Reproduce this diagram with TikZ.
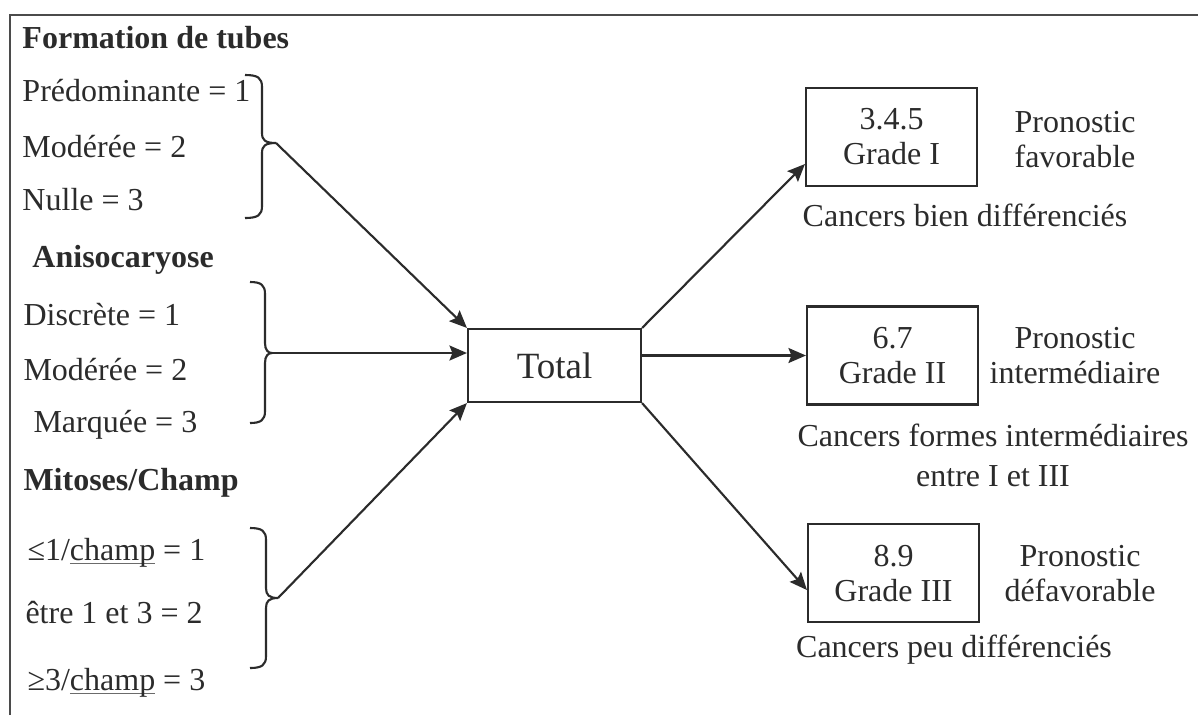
\documentclass[tikz,border=0pt]{standalone}
\usepackage{fontspec}
\setmainfont{Liberation Serif}
\usetikzlibrary{arrows.meta,calc}
\definecolor{ink}{HTML}{2B2B2B}
\newcommand\mybrace[6]{% x0 xm xt yt ym yb
  \draw[brc] (#1,#4) .. controls ({#2-4},#4) and (#2,{#4+3}) .. (#2,{#4+12})
    -- (#2,{#5-10}) .. controls (#2,{#5-3}) and ({#2+3},#5) .. (#3,#5)
    .. controls ({#2+3},#5) and (#2,{#5+3}) .. (#2,{#5+10})
    -- (#2,{#6-12}) .. controls (#2,{#6-3}) and ({#2-4},#6) .. (#1,#6);}
\newcommand\myul[1]{\setbox0\hbox{#1}\rlap{\color{ink!70}\rule[-1.3pt]{\wd0}{0.45pt}}\box0\relax}
\begin{document}
\begin{tikzpicture}[x=0.4pt,y=-0.4pt,
  every node/.style={text=ink,inner sep=0pt,font=\fontsize{12.8}{14}\selectfont},
  lbl/.style={anchor=west},
  hdr/.style={anchor=west,font=\fontsize{12.8}{14}\selectfont\bfseries},
  ctr/.style={align=center},
  gbox/.style={draw=ink,line width=0.85pt,minimum width=68.4pt,minimum height=39.2pt,align=center},
  totbox/.style={draw=ink,line width=0.85pt,minimum width=69.2pt,minimum height=29.2pt,font=\fontsize{14.8}{16}\selectfont},
  brc/.style={draw=ink,line width=0.85pt},
  frm/.style={draw=ink!85,line width=0.8pt},
  arr/.style={draw=ink,line width=0.85pt,-{Stealth[length=7pt,width=6pt,inset=1.2pt]}}]
\useasboundingbox (0,0) rectangle (1198,715);
\draw[frm] (10,715) -- (10,15) -- (1198,15);

% left column
\node[hdr] (h1) at (22,38) {Formation de tubes};
\node[lbl] (t11) at (22,91) {Prédominante = 1};
\node[lbl] (t12) at (22,147) {Modérée = 2};
\node[lbl] (t13) at (22,200) {Nulle = 3};
\node[hdr] (h2) at (32,260) {Anisocaryose};
\node[lbl] (t21) at (23,315) {Discrète = 1};
\node[lbl] (t22) at (23,370) {Modérée = 2};
\node[lbl] (t23) at (33,425) {Marquée = 3};
\node[hdr] (h3) at (23,483) {Mitoses/Champ};
\node[lbl] (t31) at (27,553) {≤1/\myul{champ} = 1};
\node[lbl] (t32) at (25,613) {être 1 et 3 = 2};
\node[lbl] (t33) at (27,683) {≥3/\myul{champ} = 3};

% braces
\mybrace{245}{262}{276}{75}{143}{218}
\coordinate (b1) at (276,143);
\mybrace{250}{265}{272}{282}{353}{423}
\coordinate (b2) at (272,353);
\mybrace{250}{266}{278}{528}{598}{668}
\coordinate (b3) at (278,598);

% total
\node[totbox] (tot) at (554.5,365.5) {Total};

% grade boxes
\node[gbox] (g1) at (891.5,137) {3.4.5\\Grade I};
\node[gbox] (g2) at (892.5,355.5) {6.7\\Grade II};
\node[gbox] (g3) at (893.5,573) {8.9\\Grade III};

\node[ctr] (p1) at (1075,139.5) {Pronostic\\favorable};
\node[ctr] (p2) at (1075,356) {Pronostic\\intermédiaire};
\node[ctr] (p3) at (1080,574) {Pronostic\\défavorable};

\node[ctr] (c1) at (965,215) {Cancers bien différenciés};
\node[ctr,font=\fontsize{12.8}{16}\selectfont] (c2) at (993,455) {Cancers formes intermédiaires\\entre I et III};
\node[ctr] (c3) at (954,650) {Cancers peu différenciés};

% connectors
\draw[arr] (b1) -- (tot.north west);
\draw[arr] (b2) -- (b2 -| tot.west);
\draw[arr] (b3) -- (tot.south west);
\coordinate (e1) at ($(g1.south west)!0.23!(g1.north west)$);
\coordinate (e3) at ($(g3.south west)!0.33!(g3.north west)$);
\draw[arr] (tot.north east) -- (e1);
\draw[arr] (tot.east |- g2.west) -- (g2.west);
\draw[arr] (tot.south east) -- (e3);
\end{tikzpicture}
\end{document}
